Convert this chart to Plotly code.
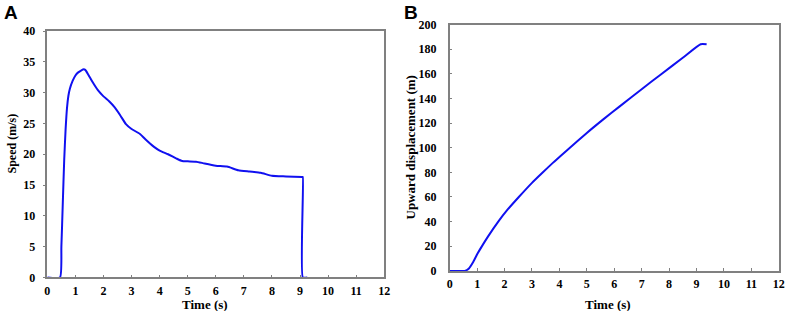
import plotly.graph_objects as go

# Panel A: speed vs time
time_a = [0, 0.45, 0.5, 0.55, 0.6, 0.65, 0.7, 0.75, 0.8, 0.9, 1.0, 1.1, 1.2, 1.3, 1.35,
          1.45, 1.6, 1.8, 2.0, 2.2, 2.4, 2.6, 2.8, 3.0, 3.3, 3.5, 3.8, 4.0, 4.3, 4.6,
          4.8, 5.0, 5.3, 5.6, 6.0, 6.4, 6.8, 7.2, 7.6, 8.0, 8.5, 9.08, 9.1, 9.1, 9.26]
speed_a = [0, 0, 5, 12, 19, 24, 27.5, 29.5, 30.6, 31.9, 32.8, 33.3, 33.6, 33.8, 33.7,
           33.0, 31.8, 30.4, 29.4, 28.6, 27.6, 26.3, 24.9, 24.1, 23.3, 22.4, 21.2, 20.6, 20.0, 19.3,
           18.9, 18.85, 18.8, 18.5, 18.15, 18.0, 17.4, 17.2, 17.0, 16.5, 16.4, 16.3, 16.3, 0, 0]

# Panel B: upward displacement vs time
time_b = [0, 0.55, 0.7, 0.85, 1.0, 1.16, 1.4, 1.77, 2.1, 2.52, 3.0, 3.37, 3.8, 4.28,
          5.0, 5.6, 6.2, 7.0, 7.7, 8.5, 9.15, 9.37]
disp_b = [0, 0, 2, 7, 13.5, 19.5, 28, 40, 49.5, 60, 71.5, 79.5, 88.5, 98,
          112, 123, 133.6, 147.5, 159.5, 173, 184, 184]

x_ticks = list(range(0, 13))
ya_ticks = list(range(0, 45, 5))
yb_ticks = list(range(0, 220, 20))

FONT = "Liberation Serif"
AXC = "#808080"
fig = go.Figure()
fig.add_trace(go.Scatter(x=time_a, y=speed_a, mode="lines",
                         line=dict(color="#1010f0", width=2, shape="spline", smoothing=0.5),
                         xaxis="x", yaxis="y", showlegend=False, hoverinfo="skip"))
fig.add_trace(go.Scatter(x=time_b, y=disp_b, mode="lines",
                         line=dict(color="#1010f0", width=2, shape="spline", smoothing=0.5),
                         xaxis="x2", yaxis="y2", showlegend=False, hoverinfo="skip"))

tickfont = dict(family=FONT, size=12, color="black", weight="bold")
titlefont = dict(family=FONT, size=13, color="black", weight="bold")

common_x = dict(range=[0, 12], tickvals=x_ticks, ticks="inside", ticklen=3, tickcolor=AXC,
                showline=True, linecolor=AXC, linewidth=1.5, mirror=True, showgrid=False,
                zeroline=False, tickfont=tickfont, automargin=False, ticklabelstandoff=1)

fig.update_layout(
    width=789, height=311, margin=dict(l=0, r=0, t=0, b=0),
    paper_bgcolor="white", plot_bgcolor="white",
    xaxis=dict(domain=[0.060, 0.487], anchor="y", **common_x),
    yaxis=dict(domain=[0.108, 0.900], anchor="x", range=[0, 40], tickvals=ya_ticks,
               ticks="outside", ticklen=3, tickcolor=AXC, showline=True, linecolor=AXC,
               linewidth=1.5, mirror=True, showgrid=False, zeroline=False, tickfont=tickfont,
               automargin=False, ticklabelstandoff=5),
    xaxis2=dict(domain=[0.570, 0.987], anchor="y2", **common_x),
    yaxis2=dict(domain=[0.129, 0.921], anchor="x2", range=[0, 200], tickvals=yb_ticks,
                ticks="inside", ticklen=3, tickcolor=AXC, showline=True, linecolor=AXC,
                linewidth=1.5, mirror=True, showgrid=False, zeroline=False, tickfont=tickfont,
                automargin=False, ticklabelstandoff=9),
    annotations=[
        dict(text="A", x=0.003, y=1.0, xref="paper", yref="paper", xanchor="left", yanchor="top",
             showarrow=False, font=dict(family="Liberation Sans", size=19, color="black", weight="bold")),
        dict(text="B", x=0.509, y=1.0, xref="paper", yref="paper", xanchor="left", yanchor="top",
             showarrow=False, font=dict(family="Liberation Sans", size=19, color="black", weight="bold")),
        dict(text="Time (s)", x=205 / 789, y=1 - 304 / 311, xref="paper", yref="paper",
             xanchor="center", yanchor="middle", showarrow=False, font=titlefont),
        dict(text="Time (s)", x=608 / 789, y=1 - 304 / 311, xref="paper", yref="paper",
             xanchor="center", yanchor="middle", showarrow=False, font=titlefont),
        dict(text="Speed (m/s)", x=12 / 789, y=1 - 143.5 / 311, xref="paper", yref="paper",
             xanchor="center", yanchor="middle", textangle=-90, showarrow=False,
             font=dict(family=FONT, size=12, color="black", weight="bold")),
        dict(text="Upward displacement (m)", x=410 / 789, y=1 - 147.5 / 311, xref="paper", yref="paper",
             xanchor="center", yanchor="middle", textangle=-90, showarrow=False, font=titlefont),
    ],
)

fig.write_html("out.html", config={"displayModeBar": False},
               post_script="document.body.style.margin='0';document.body.style.overflow='hidden';")
